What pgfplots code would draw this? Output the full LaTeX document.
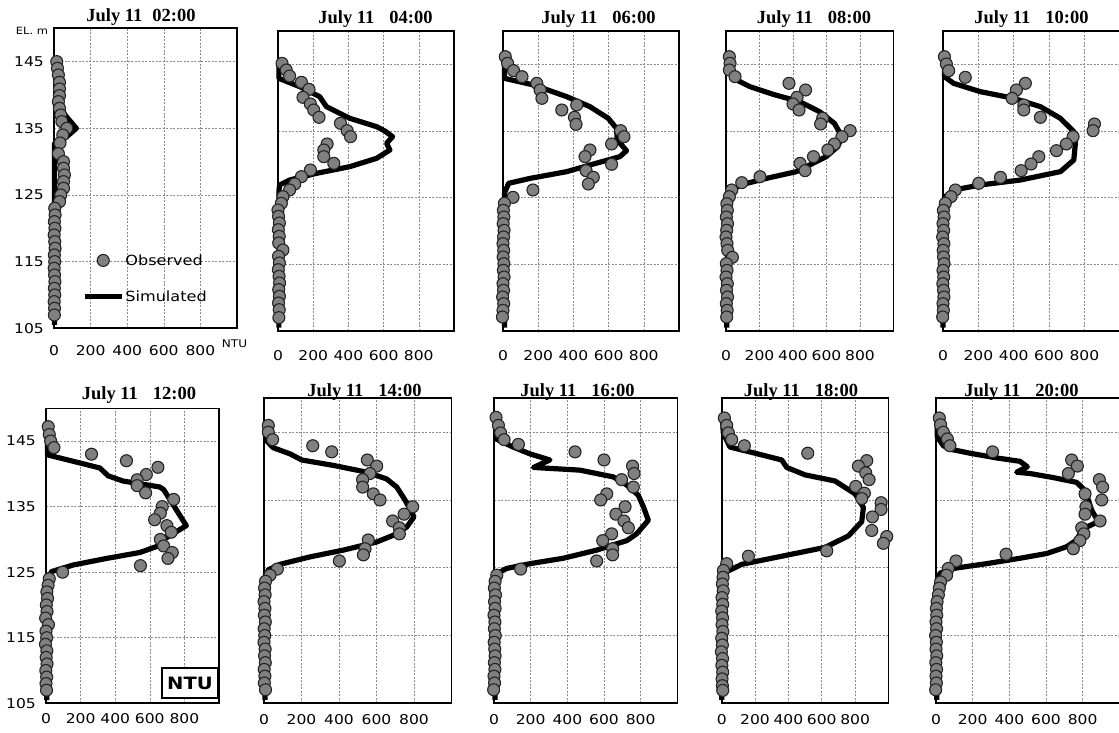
\documentclass[border=0pt]{standalone}
\usepackage{fontspec}
\setmainfont{Liberation Serif}
\newfontfamily\tickfont[FakeStretch=1.15]{DejaVu Sans}
\usepackage{pgfplots}
\pgfplotsset{compat=1.18}

\definecolor{obsgray}{RGB}{128,128,128}
\definecolor{obsedge}{RGB}{35,35,35}
\definecolor{gridgray}{RGB}{140,140,140}

\pgfplotsset{
  panel/.style={
    scale only axis, clip=false,
    xmin=0, xmax=1000, ymin=105, ymax=150,
    xtick={0,200,400,600,800}, ytick={105,115,125,135,145},
    grid=major,
    grid style={gridgray, line width=0.6bp, dash pattern=on 2bp off 1.5bp},
    major tick length=0pt,
    axis line style={line width=1.6bp},
    ticklabel style={font=\tickfont\fontsize{13.5bp}{15bp}\selectfont},
    xticklabel style={inner sep=0pt, anchor=north, yshift=-#1},
    yticklabel style={inner sep=0pt, anchor=east, xshift=-10bp},
    /pgf/number format/assume math mode=true,
  },
  panel/.default=19bp,
  obs/.style={only marks, mark=*, mark size=6bp,
    mark options={fill=obsgray, draw=obsedge, line width=1.1bp},
    legend image code/.code={\draw[mark repeat=2,mark phase=2,##1] plot coordinates {(0bp,0bp) (18.5bp,0bp) (37bp,0bp)};}},
  sim/.style={no marks, black, line width=5.2bp, line join=round,
    legend image code/.code={\draw[##1] (0bp,0bp) -- (37bp,0bp);}},
}

\newcommand{\paneltitle}[4]{%
  \node[anchor=base, inner sep=0pt, font=\bfseries\fontsize{18.5bp}{20bp}\selectfont]
    at (#1bp,#2bp) {July 11\hspace{#3bp}#4};}

\begin{document}
\begin{tikzpicture}

% ---------------- 02:00 ----------------
\begin{axis}[panel=17bp, at={(54bp,404.7bp)}, anchor=south west, width=183bp, height=300bp,
  legend style={at={(rel axis cs:0.497,0.166)}, anchor=center, draw=none, fill=none,
    font=\tickfont\fontsize{14bp}{16bp}\selectfont, row sep=22bp, inner sep=0pt,
    nodes={inner sep=1bp}},
  legend cell align=left]
\addplot[obs] table[row sep=\\]{ntu el\\
15 145\\19 144\\24 143\\30 141.9\\30 140.9\\30 139.9\\24 139\\30 138\\37 137\\43 136\\
70 135\\48 134\\33 132.8\\24 131.2\\52 130\\52 129\\57 128\\52 127\\52 126\\37 125\\30 124\\
4 123\\6 122\\2 121\\5 120\\1 119\\4 118\\6 117\\2 116\\4 115\\1 114\\3 113\\5 112\\2 111\\
4 110\\1 109\\3 108\\2 107\\};
\addlegendentry{Observed}
\addplot[sim] table[row sep=\\]{ntu el\\
3 105.5\\3 132.75\\70 133.75\\122 135\\52 137.25\\3 138.25\\};
\addlegendentry{Simulated}
\end{axis}

% ---------------- 04:00 ----------------
\begin{axis}[panel=19bp, at={(278bp,402bp)}, anchor=south west, width=176bp, height=300bp,
  yticklabels={}]
\addplot[obs] table[row sep=\\]{ntu el\\
23 145.15\\47 144.15\\66 143.25\\133 142.3\\176 141.25\\142 140.05\\184 139.05\\203 138.15\\
233 137.05\\355 136.15\\393 135.05\\412 134.15\\279 133.05\\260 132.15\\260 131.15\\317 130.15\\
184 129.15\\133 128.15\\95 127.05\\66 126.15\\28 125.15\\19 124.15\\
0 123.15\\3 122.2\\8 121.2\\2 120.2\\7 119.2\\4 118.2\\28 117.15\\3 116.2\\8 115.2\\2 114.2\\
6 113.2\\9 112.2\\4 111.2\\8 110.2\\3 109.2\\7 108.2\\5 107\\};
\addplot[sim] table[row sep=\\]{ntu el\\
5 105.5\\5 125.9\\9 126.9\\66 127.65\\218 128.65\\408 129.65\\560 130.9\\636 132.15\\
617 133.15\\651 134.15\\607 135\\560 135.65\\408 136.9\\275 138.65\\237 140.15\\123 141.65\\
5 142.9\\5 145.15\\};
\end{axis}

% ---------------- 06:00 ----------------
\begin{axis}[panel=19bp, at={(503bp,402bp)}, anchor=south west, width=176bp, height=300bp,
  yticklabels={}]
\addplot[obs] table[row sep=\\]{ntu el\\
13 146.15\\26 145.15\\60 144.05\\108 143.15\\192 142.15\\211 141.15\\221 139.9\\419 138.9\\
334 138.15\\406 137.05\\415 136\\668 135.05\\687 134.15\\617 133.05\\494 132.15\\466 131.15\\
617 130\\472 129.05\\513 128.05\\485 127.05\\170 126.15\\57 125.05\\8 124.15\\
2 123.1\\5 122.1\\1 121.1\\6 120.1\\3 119.1\\0 118.1\\4 117.1\\1 116.1\\5 115.1\\2 114.1\\
6 113.1\\0 112.1\\3 111.1\\-2 110.1\\4 109.1\\0 108.1\\-3 107.1\\};
\addplot[sim] table[row sep=\\]{ntu el\\
8 105.5\\8 125.65\\32 127.15\\155 127.9\\362 128.9\\494 129.9\\664 131.15\\702 132.05\\
649 133.65\\645 135.4\\598 136.9\\494 138.65\\362 140.15\\174 141.9\\8 142.9\\8 145.9\\};
\end{axis}

% ---------------- 08:00 ----------------
\begin{axis}[panel=19bp, at={(726bp,402bp)}, anchor=south west, width=167.5bp, height=300bp,
  yticklabels={}]
\addplot[obs] table[row sep=\\]{ntu el\\
20 146.15\\24 145.15\\20 144.15\\54 143.15\\376 142.15\\475 141.15\\424 140.05\\400 139.05\\
436 138.15\\577 136.9\\565 136.05\\741 135.05\\692 134.15\\647 133.05\\608 132.15\\522 131.15\\
442 130.15\\472 129.05\\203 128.15\\94 127.25\\34 126.15\\20 125.15\\
5 124.1\\8 123.1\\2 122.1\\9 121.1\\4 120.1\\0 119.1\\6 118.1\\10 117.1\\38 116.05\\2 115.1\\
6 114.1\\0 113.1\\8 112.1\\3 111.1\\9 110.1\\2 109.1\\7 108.1\\4 107.1\\};
\addplot[sim] table[row sep=\\]{ntu el\\
4 105.5\\14 125.65\\84 126.9\\243 127.9\\420 128.9\\499 129.9\\598 131.15\\667 132.65\\
693 134.15\\647 136.15\\558 137.9\\440 139.4\\281 140.5\\143 141.65\\44 142.9\\14 144.4\\
8 145.9\\};
\end{axis}

% ---------------- 10:00 ----------------
\begin{axis}[panel=19bp, at={(943bp,402bp)}, anchor=south west, width=178.5bp, height=300bp,
  xmax=1010, yticklabels={}]
\addplot[obs] table[row sep=\\]{ntu el\\
8 146.15\\19 145.05\\32 144.05\\126 143.05\\466 142.15\\415 141.15\\391 139.9\\457 138.9\\
457 138.15\\551 137.05\\857 136.05\\849 135.05\\736 134.15\\698 133.05\\642 132.05\\542 131.15\\
498 130.05\\442 129.05\\325 128.05\\202 127.15\\70 126.15\\45 125.15\\13 124.15\\
2 123.1\\6 122.1\\0 121.1\\4 120.1\\-2 119.1\\5 118.1\\1 117.1\\3 116.1\\6 115.1\\0 114.1\\
4 113.1\\-1 112.1\\3 111.1\\5 110.1\\0 109.1\\2 108.1\\-2 107.1\\};
\addplot[sim] table[row sep=\\]{ntu el\\
0 105.5\\13 125.15\\60 126.15\\211 126.9\\438 127.65\\664 128.9\\740 130.65\\749 133.15\\
740 134.9\\664 136.9\\551 138.65\\400 139.9\\211 140.9\\60 142.15\\8 143.15\\8 145.9\\};
\end{axis}

% ---------------- 12:00 ----------------
\begin{axis}[panel=10bp, at={(46bp,29.7bp)}, anchor=south west, width=173bp, height=295bp]
\addplot[obs] table[row sep=\\]{ntu el\\
13 147.2\\19 146\\27 145\\46 144\\263 143\\465 142\\647 141\\580 139.9\\527 139.1\\527 138.2\\
576 137.1\\738 136.1\\672 135\\661 134\\628 133\\699 132.1\\724 131.1\\661 130\\680 129\\
730 128\\705 127.1\\546 126\\96 125\\19 124\\
12 123\\5 122\\9 121\\2 120\\6 119\\-2 118\\14 117\\0 116\\4 115\\-3 114\\5 113\\1 112\\
6 111\\-1 110\\4 109\\0 108\\3 107\\};
\addplot[sim] table[row sep=\\]{ntu el\\
4 105.5\\8 124\\33 125.1\\158 126.1\\350 127.1\\542 128\\680 129.3\\680 130\\811 132.1\\
680 137.6\\657 138\\446 138.9\\359 139.7\\311 140.9\\8 142.9\\8 147.5\\};
\end{axis}

% ---------------- 14:00 ----------------
\begin{axis}[panel=11bp, at={(264bp,29.7bp)}, anchor=south west, width=187.5bp, height=305bp,
  yticklabels={}]
\addplot[obs] table[row sep=\\]{ntu el\\
23 146\\23 145\\46 143.9\\260 143\\361 142.1\\551 140.9\\601 140\\565 138.9\\526 138\\
526 136.9\\583 135.9\\619 135\\793 134\\747 132.9\\686 131.9\\722 130.9\\722 130\\556 129.1\\
539 127.8\\530 126.9\\402 126\\71 124.8\\32 123.9\\
8 123\\3 122\\6 121\\0 120\\5 119\\2 118\\7 117\\1 116\\4 115\\0 114\\6 113\\3 112\\7 111\\
1 110\\5 109\\2 108\\8 107\\};
\addplot[sim] table[row sep=\\]{ntu el\\
5 105.5\\5 123.4\\23 124.7\\85 125.5\\245 126.6\\423 127.6\\601 128.8\\690 129.8\\761 131\\
800 132.5\\752 135\\708 136.9\\654 138.1\\548 139.1\\370 140.1\\201 140.9\\139 141.8\\
50 142.7\\11 143.8\\5 146.2\\};
\end{axis}

% ---------------- 16:00 ----------------
\begin{axis}[panel=11bp, at={(494bp,29.7bp)}, anchor=south west, width=183.3bp, height=305bp,
  yticklabels={}]
\addplot[obs] table[row sep=\\]{ntu el\\
11 147.2\\24 146\\36 144.9\\55 143.9\\133 143.2\\442 142.1\\600 140.9\\756 140\\764 138.9\\
696 138\\760 136.9\\615 135.9\\582 135\\715 134\\665 132.9\\709 131.9\\733 130.9\\642 130\\
593 129\\647 127.8\\647 126.9\\560 126\\145 124.8\\15 123.9\\
6 123\\2 122\\8 121\\3 120\\6 119\\0 118\\5 117\\2 116\\7 115\\1 114\\4 113\\6 112\\2 111\\
5 110\\0 109\\3 108\\-2 107\\};
\addplot[sim] table[row sep=\\]{ntu el\\
5 105.5\\15 124.1\\69 124.9\\196 125.6\\378 126.4\\560 127.6\\724 129\\778 130\\842 132\\
815 134\\787 135.7\\724 137.2\\651 138.4\\469 139.4\\215 139.8\\305 140.9\\196 141.8\\
105 142.8\\11 144\\11 147.2\\};
\end{axis}

% ---------------- 18:00 ----------------
\begin{axis}[panel=11bp, at={(721.7bp,29.7bp)}, anchor=south west, width=166.7bp, height=305bp,
  yticklabels={}]
\addplot[obs] table[row sep=\\]{ntu el\\
16 147.1\\30 146\\40 144.9\\60 143.9\\136 143\\516 141.9\\870 140.8\\820 140\\864 139\\
884 138\\804 137\\856 136\\840 135.2\\956 134.6\\956 133.6\\904 132.5\\900 130.5\\990 129.6\\
970 128.6\\630 127.5\\160 126.7\\30 125.6\\10 124.6\\
8 123.6\\4 122.6\\9 121.6\\2 120.6\\6 119.6\\0 118.6\\5 117.6\\2 116.6\\7 115.6\\0 114.6\\
4 113.6\\-2 112.6\\5 111.6\\1 110.6\\6 109.6\\2 108.6\\4 107.6\\6 106.9\\};
\addplot[sim] table[row sep=\\]{ntu el\\
0 105.5\\0 122.8\\20 124.3\\120 125.5\\360 126.7\\620 128\\760 129.7\\840 131.8\\850 133.9\\
800 135.9\\680 137.8\\500 138.7\\390 139.8\\360 140.9\\200 141.9\\50 142.8\\10 144.8\\
4 147\\};
\end{axis}

% ---------------- 20:00 ----------------
\begin{axis}[panel=11bp, at={(936bp,29.7bp)}, anchor=south west, width=185.5bp, height=305bp,
  xmax=1012, yticklabels={}]
\addplot[obs] table[row sep=\\]{ntu el\\
18 147.1\\25 146.1\\40 145\\62 144\\76 143\\309 142.1\\740 140.9\\771 140\\722 138.9\\
891 138\\909 136.9\\813 135.9\\904 135\\818 134\\813 132.9\\895 131.9\\795 130.9\\807 130\\
785 129\\749 127.8\\382 127\\109 126\\67 124.9\\58 123.9\\25 122.9\\18 122\\13 121\\
6 120\\2 119\\4 118\\0 117\\3 116\\-2 115\\2 114\\0 113\\4 112\\-1 111\\3 110\\0 109\\
2 108\\-2 107\\};
\addplot[sim] table[row sep=\\]{ntu el\\
4 105.5\\4 122.7\\22 124.2\\95 124.9\\276 125.6\\458 126.4\\604 127.1\\713 128.1\\767 129.1\\
785 130\\822 131\\885 131.8\\849 133.5\\831 135\\813 136.4\\767 137.6\\640 138.3\\513 138.9\\
440 139.1\\498 139.9\\458 140.7\\331 141.2\\185 141.9\\76 142.5\\40 143\\7 144.3\\7 146.7\\};
\end{axis}

% panel titles
\paneltitle{141}{711.5}{10}{02:00}
\paneltitle{375.5}{709.7}{15}{04:00}
\paneltitle{598.5}{709.7}{15}{06:00}
\paneltitle{814}{709.7}{15}{08:00}
\paneltitle{1031.5}{709.7}{15}{10:00}
\paneltitle{139}{333}{15}{12:00}
\paneltitle{364.5}{336.3}{15}{14:00}
\paneltitle{577.5}{336.3}{15}{16:00}
\paneltitle{801}{336.3}{15}{18:00}
\paneltitle{1021.5}{336.3}{15}{20:00}

% axis unit labels
\node[font=\tickfont\fontsize{10bp}{12bp}\selectfont, inner sep=0pt] at (32bp,702bp) {EL. m};
\node[font=\tickfont\fontsize{10.5bp}{12bp}\selectfont, inner sep=0pt] at (234.5bp,389bp) {NTU};
\node[draw, line width=1.5bp, fill=white, minimum width=56bp, minimum height=30bp, inner sep=0pt,
  font=\tickfont\bfseries\fontsize{17bp}{19bp}\selectfont] at (190bp,50bp) {NTU};

\pgfresetboundingbox
\useasboundingbox (0bp,0bp) rectangle (1119bp,733bp);
\end{tikzpicture}
\end{document}
